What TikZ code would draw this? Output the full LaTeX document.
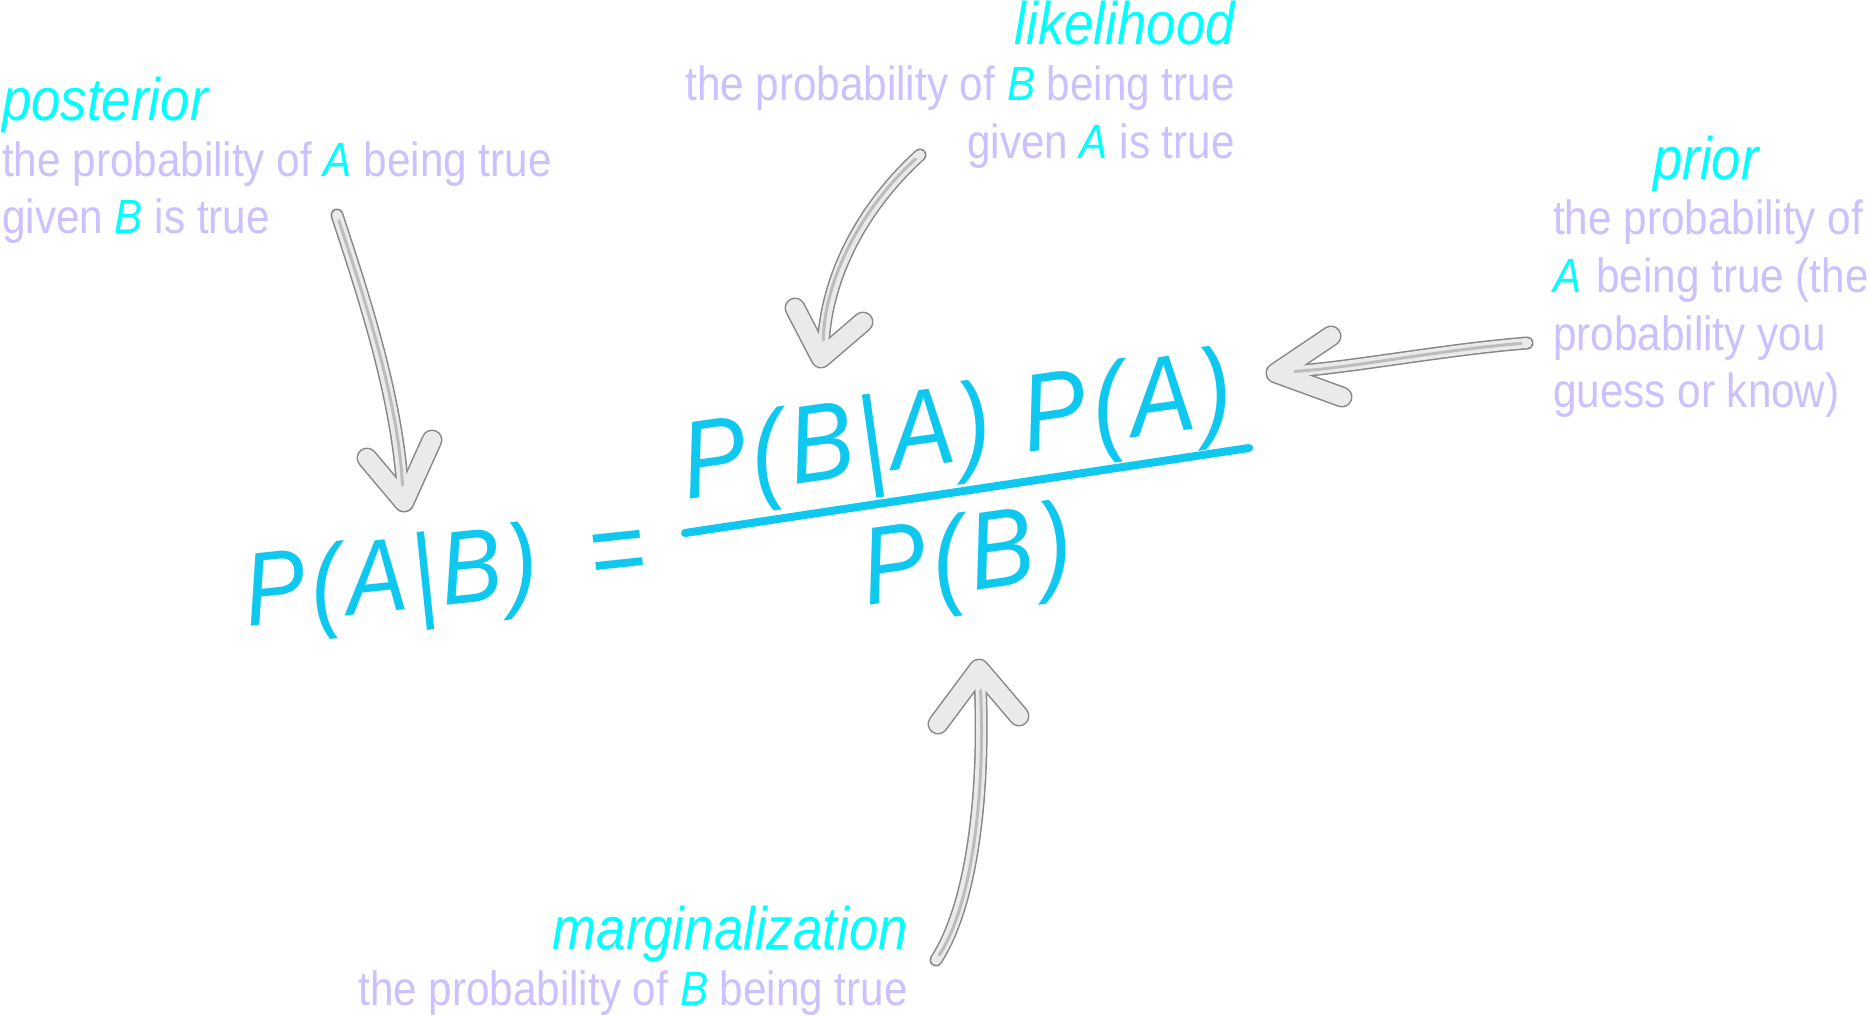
\documentclass[tikz,border=0pt]{standalone}
\usepackage{fontspec}
\newfontfamily\lblfont[FakeStretch=0.88]{Liberation Sans}
\newfontfamily\eqfont[FakeStretch=0.88]{Liberation Sans}
\newfontfamily\eqwide[FakeStretch=0.88,LetterSpace=5]{Liberation Sans}
\definecolor{cyanhead}{RGB}{0,255,255}
\definecolor{lav}{RGB}{204,192,255}
\definecolor{eqblue}{RGB}{15,200,240}
\definecolor{pencilout}{RGB}{135,135,135}
\definecolor{pencilin}{RGB}{234,234,234}
\definecolor{pencilmid}{RGB}{188,188,188}
\newcommand{\hl}[1]{{\itshape\color{cyanhead}#1}}
\newcommand{\pencilarrow}[2]{%
  \draw[pencil outer] #1; \draw[pencil head outer] #2;
  \draw[pencil inner] #1; \draw[pencil head inner] #2;
  \draw[pencil streak] #1;}
\tikzset{
  headtxt/.style={inner sep=0pt, text=cyanhead, font=\lblfont\itshape\fontsize{60}{70}\selectfont},
  bodytxt/.style={inner sep=0pt, text=lav, font=\lblfont\fontsize{48}{58}\selectfont},
  eqtxt/.style={inner sep=0pt, text=eqblue, font=\eqfont\itshape\fontsize{110}{130}\selectfont},
  eqwidetxt/.style={inner sep=0pt, text=eqblue, font=\eqwide\itshape\fontsize{110}{130}\selectfont},
  eqlhstxt/.style={inner sep=0pt, text=eqblue, font=\eqwide\itshape\fontsize{104}{124}\selectfont},
  pencil outer/.style={line width=13pt, draw=pencilout, line cap=round},
  pencil inner/.style={line width=10pt, draw=pencilin, line cap=round},
  pencil head outer/.style={line width=21pt, draw=pencilout, line cap=round, line join=round},
  pencil head inner/.style={line width=18pt, draw=pencilin, line cap=round, line join=round},
  pencil streak/.style={line width=3pt, draw=pencilmid, line cap=round, shorten <=6pt, shorten >=10pt},
  fracbar/.style={line width=8pt, draw=eqblue, line cap=round}
}
\begin{document}
\begin{tikzpicture}[x=1pt, y=-1pt]
\useasboundingbox[fill=white] (0,0) rectangle (1869,1016);

% posterior
\node[headtxt, anchor=base west] (posth) at (2,121) {posterior};
\node[bodytxt, anchor=base west] (post1) at (2,177) {the probability of \hl{A} being true};
\node[bodytxt, anchor=base west] (post2) at (2,234) {given \hl{B} is true};

% likelihood
\node[headtxt, anchor=base east] (likh) at (1235,45) {likelihood};
\node[bodytxt, anchor=base east] (lik1) at (1235,101) {the probability of \hl{B} being true};
\node[bodytxt, anchor=base east] (lik2) at (1235,159) {given \hl{A} is true};

% prior
\node[headtxt, anchor=base] (prih) at (1706,180) {prior};
\node[bodytxt, anchor=base west] (pri1) at (1553,235) {the probability of};
\node[bodytxt, anchor=base west] (pri2) at (1553,293) {\hl{A}\hspace{15pt}being true (the};
\node[bodytxt, anchor=base west] (pri3) at (1553,350) {probability you};
\node[bodytxt, anchor=base west] (pri4) at (1553,407) {guess or know)};

% marginalization
\node[headtxt, anchor=base east] (margh) at (908,949) {marginalization};
\node[bodytxt, anchor=base east] (marg1) at (908,1005) {the probability of \hl{B} being true};

% equation
\node[eqlhstxt, rotate=6] (lhs) at (392,585) {P(A|B)};
\node[eqtxt, rotate=6] (eq) at (618,560) {=};
\node[eqwidetxt, rotate=8] (num) at (958,434) {P(B|A)\hspace{0.3em}P(A)};
\node[eqwidetxt, rotate=8] (den) at (968,563) {P(B)};
\coordinate (fracL) at (685,533);
\coordinate (fracR) at (1249,448);
\draw[fracbar] (fracL) -- (fracR);

% arrow end points
\coordinate (postTail) at (337,215);
\coordinate (postTip) at (403,495);
\coordinate (likTail) at (920,155);
\coordinate (likTip) at (823,350);
\coordinate (priTail) at (1527,343);
\coordinate (priTip) at (1285,372);
\coordinate (margTail) at (936,960);
\coordinate (margTip) at (980,680);

\pencilarrow{(postTail) .. controls (365,300) and (398,400) .. (postTip)}
            {(367,458) -- (404,502) -- (432,440)}
\pencilarrow{(likTail) .. controls (870,200) and (825,270) .. (likTip)}
            {(795,308) -- (821,358) -- (863,322)}
\pencilarrow{(priTail) .. controls (1440,350) and (1350,368) .. (priTip)}
            {(1331,336) -- (1276,373) -- (1342,397)}
\pencilarrow{(margTail) .. controls (975,900) and (985,780) .. (margTip)}
            {(938,724) -- (979,669) -- (1019,716)}
\end{tikzpicture}
\end{document}
